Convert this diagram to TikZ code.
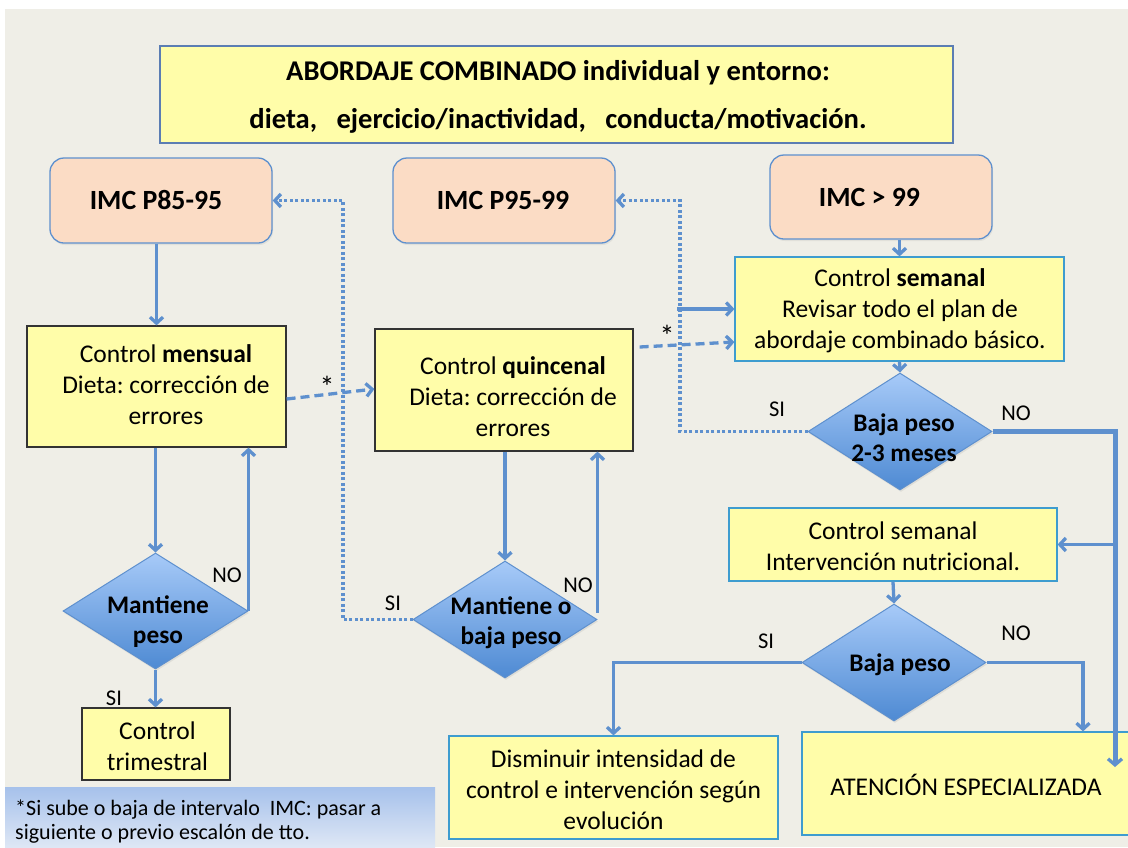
\documentclass[tikz,border=0pt]{standalone}
\usepackage{fontspec}
\setmainfont{Carlito}
\frenchspacing
\usetikzlibrary{arrows.meta,shapes.geometric,shadows}
\definecolor{bg}{HTML}{EFEEE7}
\definecolor{yel}{HTML}{FFFDA9}
\definecolor{peach}{HTML}{FBDCC5}
\definecolor{lnk}{HTML}{5E90CE}
\definecolor{dtop}{HTML}{A7CAF8}
\definecolor{dbot}{HTML}{4E8AD3}
\definecolor{cyanb}{HTML}{3E9CCF}
\definecolor{titleb}{HTML}{5B7DB3}
\definecolor{ftop}{HTML}{A6C1EB}
\definecolor{fbot}{HTML}{DEE7F5}
\tikzset{
  body/.style={font=\fontsize{25.5}{31}\selectfont, align=center, inner sep=0pt},
  bbold/.style={font=\bfseries\fontsize{25.3}{30}\selectfont, align=center, inner sep=0pt},
  lab/.style={font=\fontsize{22.5}{26}\selectfont, inner sep=0pt},
  star/.style={font=\fontsize{30}{31}\selectfont, inner sep=0pt},
  boxdark/.style={draw=black!80, line width=1.2pt, fill=yel, inner sep=0pt},
  boxcyan/.style={draw=cyanb, line width=1.2pt, fill=yel, inner sep=0pt},
  imcbox/.style={rounded corners=14pt, draw=lnk, line width=1.3pt, fill=peach, inner sep=0pt,
     drop shadow={opacity=0.12, shadow xshift=1pt, shadow yshift=-2pt}},
  dia/.style={diamond, draw=lnk, line width=1pt, top color=dtop, bottom color=dbot, inner sep=0pt,
     drop shadow={opacity=0.15, shadow xshift=1pt, shadow yshift=-2pt}},
  tip/.style={-{Straight Barb[length=6pt,width=13pt]}},
  arr/.style={draw=lnk, line width=3.3pt, tip},
  thickarr/.style={draw=lnk, line width=5pt, -{Straight Barb[length=6pt,width=14pt,line width=3.3pt]}},
  dasharr/.style={draw=lnk, line width=3.3pt, dash pattern=on 9pt off 5pt, tip},
  dotarr/.style={draw=lnk, line width=3.3pt, dash pattern=on 3pt off 2.5pt, tip},
}
\begin{document}
\begin{tikzpicture}[x=1pt,y=-1pt]
\useasboundingbox (0,0) rectangle (1128,847);
\fill[bg] (5,9) rectangle (1128,847);

% title
\node[draw=titleb, line width=1.2pt, fill=yel, minimum width=793pt, minimum height=97pt, inner sep=0pt] (title) at (556.5,94.5) {};
\node[font=\bfseries\fontsize{28.6}{48}\selectfont, align=center, inner sep=0pt] (titletxt) at (558,97)
  {ABORDAJE COMBINADO individual y entorno:\\dieta,\ \ \ ejercicio/inactividad,\ \ \ conducta/motivación.};

% IMC boxes
\node[imcbox, minimum width=222pt, minimum height=85pt] (imc1) at (161,200.5) {};
\node[font=\bfseries\fontsize{27.8}{32}\selectfont, inner sep=0pt] (imc1t) at (156,200) {IMC P85-95};
\node[imcbox, minimum width=222pt, minimum height=85pt] (imc2) at (504,200.5) {};
\node[font=\bfseries\fontsize{27.8}{32}\selectfont, inner sep=0pt] (imc2t) at (503,200) {IMC P95-99};
\node[imcbox, minimum width=222pt, minimum height=84pt] (imc3) at (881,197) {};
\node[font=\bfseries\fontsize{27.8}{32}\selectfont, inner sep=0pt] (imc3t) at (869.5,197) {IMC > 99};

% control boxes
\node[boxdark, minimum width=259pt, minimum height=121pt] (mens) at (156.5,386.5) {};
\node[body] (menst) at (166,385) {Control \textbf{mensual}\\Dieta: corrección de\\errores};
\node[boxdark, minimum width=258pt, minimum height=122pt] (quin) at (504,390) {};
\node[body] (quint) at (513,397) {Control \textbf{quincenal}\\Dieta: corrección de\\errores};
\node[boxcyan, minimum width=329pt, minimum height=104pt] (sem) at (899.5,309) {};
\node[body] (semt) at (900,311) {Control \textbf{semanal}\\Revisar todo el plan de\\abordaje combinado básico.};

% diamonds
\node[dia, minimum width=185pt, minimum height=116pt] (d1) at (155.5,611) {};
\node[bbold] (d1t) at (158,621.5) {Mantiene\\peso};
\node[dia, minimum width=184pt, minimum height=117pt] (d2) at (505,619.5) {};
\node[bbold] (d2t) at (511,623) {Mantiene o\\baja peso};
\node[dia, minimum width=184pt, minimum height=117pt] (d3) at (900,431.5) {};
\node[bbold] (d3t) at (904,438) {Baja peso\\2-3 meses};

% right column
\node[boxcyan, minimum width=328pt, minimum height=73pt] (inter) at (893,544.5) {};
\node[body] (intert) at (893,546.5) {Control semanal\\Intervención nutricional.};
\node[dia, minimum width=184pt, minimum height=117pt] (d4) at (894,662.5) {};
\node[bbold] (d4t) at (900,665) {Baja peso};
\node[boxcyan, minimum width=329pt, minimum height=103pt] (dism) at (613.5,787.5) {};
\node[body] (dismt) at (613.5,790) {Disminuir intensidad de\\control e intervención según\\evolución};
\node[boxcyan, minimum width=328pt, minimum height=103pt] (aten) at (966,783.5) {};
\node[body] (atent) at (966,785) {ATENCIÓN ESPECIALIZADA};
\node[boxdark, minimum width=148pt, minimum height=72pt] (trim) at (156,744) {};
\node[body] (trimt) at (157.5,746) {Control\\trimestral};

% footnote
\shade[top color=ftop, bottom color=fbot] (5,787) rectangle (435,847);
\node[font=\fontsize{22}{24.5}\selectfont, align=left, anchor=west, inner sep=0pt] (foot) at (15,821.5)
  {*Si sube o baja de intervalo\ \ IMC: pasar a\\siguiente o previo escalón de tto.};

% coordinates for free ends / bends
\coordinate (c1) at (343,619.5);
\coordinate (c2) at (680,431.5);
\coordinate (fs) at (677,309);
\coordinate (c3) at (1115,431.5);
\coordinate (c4) at (1115,544.5);
\coordinate (c5) at (1115,767);

% connectors
\draw[arr] (mens.north |- imc1.south) -- (mens.north);
\draw[arr] (d1.north |- mens.south) -- (d1.north);
\draw[arr] (d1.east) -- (d1.east |- mens.south);
\draw[arr] (d1.south) -- (d1.south |- trim.north);
\draw[dasharr] ([yshift=-12.5pt]mens.east) -- ([yshift=1pt]quin.west);
\draw[dotarr] (d2.west) -- (c1) |- (imc1.east);
\draw[arr] (d2.north |- quin.south) -- (d2.north);
\draw[arr] ([yshift=7pt]d2.east) -- (d2.east |- quin.south);
\draw[dasharr] ([xshift=6pt,yshift=43pt]quin.east) -- ([yshift=-33pt]sem.west);
\draw[arr] (fs) -- (sem.west);
\draw[dotarr] (d3.west) -- (c2) |- (imc2.east);
\draw[arr] (sem.north |- imc3.south) -- (sem.north);
\draw[arr] (sem.south) -- (d3.north);
\draw[thickarr] (d3.east) -- (c3) -- (c5);
\draw[arr] (c4) -- (inter.east);
\draw[arr] (inter.south) -- (d4.north);
\draw[arr] (d4.west) -| (dism.north);
\draw[arr] (d4.east) -| ([xshift=117pt]aten.north);

% labels
\node[lab] (l1) at (227,575) {NO};
\node[lab] (l2) at (114,698) {SI};
\node[star] (s1) at (327,387) {*};
\node[lab] (l3) at (393,603) {SI};
\node[lab] (l4) at (578,585) {NO};
\node[star] (s2) at (667,336) {*};
\node[lab] (l5) at (777,409) {SI};
\node[lab] (l6) at (1016,413) {NO};
\node[lab] (l7) at (766,641) {SI};
\node[lab] (l8) at (1016,633) {NO};
\end{tikzpicture}
\end{document}
